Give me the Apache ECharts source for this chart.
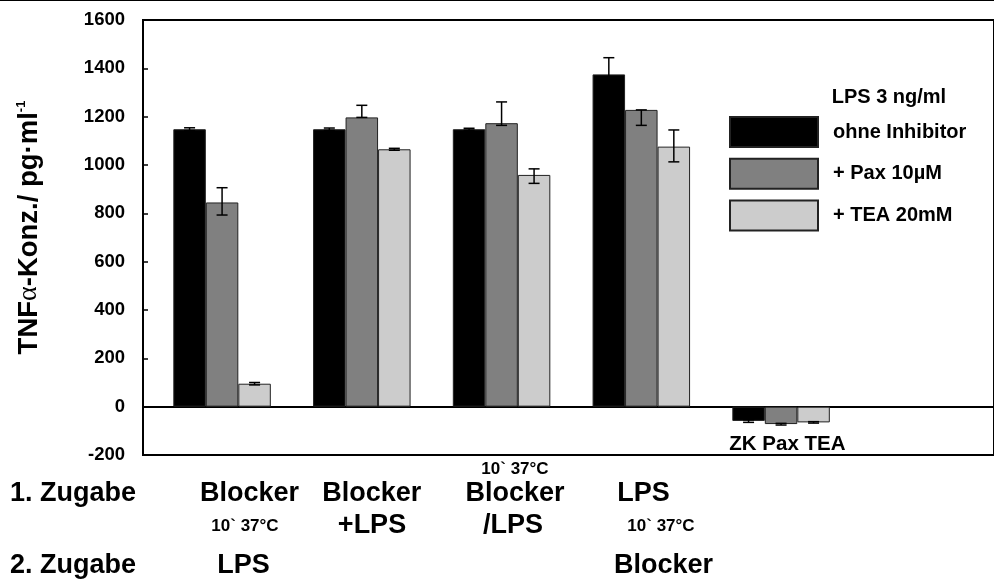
<!DOCTYPE html>
<html>
<head>
<meta charset="utf-8">
<script src="https://cdn.jsdelivr.net/npm/echarts@6/dist/echarts.min.js"></script>
<style>
  html, body { margin: 0; padding: 0; background: #fff; }
  #chart { width: 994px; height: 580px; }
</style>
</head>
<body>
<div id="chart"></div>
<script>
// ---------------- data ----------------
const categories = ['Blocker 10` 37°C / LPS', 'Blocker+LPS', '10` 37°C Blocker/LPS', 'LPS 10` 37°C / Blocker', 'ZK Pax TEA'];
const seriesNames = ['ohne Inhibitor', '+ Pax 10µM', '+ TEA 20mM'];
const ohne = [1148, 1148, 1148, 1375, -59];
const pax  = [845, 1197, 1173, 1228, -72];
const tea  = [95, 1065, 959, 1076, -65];
const ohneErrPlus  = [6, 5, 4, 69, 5];
const ohneErrMinus = [6, 5, 4, 69, 6];
const paxErrPlus   = [61, 50, 88, 0, 3];
const paxErrMinus  = [52, 0, 9, 64, 4];
const teaErrPlus   = [5, 4, 25, 69, 3];
const teaErrMinus  = [5, 4, 35, 63, 3];
const yTicks = { min: -200, max: 1600, step: 200 };
const legendTitle = 'LPS 3 ng/ml';
const rowLabels = ['1. Zugabe', '2. Zugabe'];
const zugabe1 = ['Blocker', 'Blocker', 'Blocker', 'LPS'];
const zugabe1Zusatz = ['10` 37°C', '+LPS', '/LPS', '10` 37°C'];
const vorZugabe1 = ['', '', '10` 37°C', ''];
const zugabe2 = ['LPS', '', '', 'Blocker'];
const controlLabel = 'ZK Pax TEA';

// ---------------- layout ----------------
const FONT = 'Liberation Sans, Arial, Helvetica, sans-serif';
const BAR_W = 32.5;
const CAP = 11;
const colors = ['#000000', '#808080', '#cccccc'];
const values = [ohne, pax, tea];
const errP = [ohneErrPlus, paxErrPlus, teaErrPlus];
const errM = [ohneErrMinus, paxErrMinus, teaErrMinus];

const barSeries = seriesNames.map((n, i) => ({
  name: n,
  type: 'bar',
  xAxisIndex: 1,
  yAxisIndex: 1,
  data: values[i],
  barWidth: BAR_W,
  barGap: '0%',
  itemStyle: { color: colors[i], borderColor: '#222', borderWidth: 1 },
  z: 2
}));

function errRender(si) {
  return function (params, api) {
    const x = api.value(0), v = api.value(1), p = api.value(2), m = api.value(3);
    const top = api.coord([x, v + p]);
    const bot = api.coord([x, v - m]);
    const cx = top[0] + (si - 1) * BAR_W;
    const st = { stroke: '#000', lineWidth: 1.5 };
    return {
      type: 'group',
      children: [
        { type: 'line', shape: { x1: cx, y1: top[1], x2: cx, y2: bot[1] }, style: st },
        { type: 'line', shape: { x1: cx - CAP / 2, y1: top[1], x2: cx + CAP / 2, y2: top[1] }, style: st },
        { type: 'line', shape: { x1: cx - CAP / 2, y1: bot[1], x2: cx + CAP / 2, y2: bot[1] }, style: st }
      ]
    };
  };
}
const errSeries = seriesNames.map((n, i) => ({
  type: 'custom',
  xAxisIndex: 1,
  yAxisIndex: 1,
  renderItem: errRender(i),
  data: values[i].map((v, k) => [k, v, errP[i][k], errM[i][k]]),
  z: 5,
  silent: true
}));

const bigFont = { fontSize: 27, fontWeight: 'bold', fontFamily: FONT, fill: '#000' };
const smallFont = { fontSize: 17, fontWeight: 'bold', fontFamily: FONT, fill: '#000' };
function txt(text, x, y, f, align) {
  return { type: 'text', silent: true, style: Object.assign({ text: text, x: x, y: y, align: align || 'center', verticalAlign: 'middle' }, f) };
}
const row1X = [249.5, 371.7, 515, 643.5];
const row1bX = [245, 372, 513, 661];
const row1bBig = [false, true, true, false];
const graphics = [
  { type: 'line', silent: true, shape: { x1: 0, y1: 0.5, x2: 994, y2: 0.5 }, style: { stroke: '#000', lineWidth: 1 } },
  txt(legendTitle, 831.7, 97, { fontSize: 20, fontWeight: 'bold', fontFamily: FONT, fill: '#000' }, 'left'),
  txt(controlLabel, 729.3, 444, { fontSize: 20.5, fontWeight: 'bold', fontFamily: FONT, fill: '#000' }, 'left'),
  txt(rowLabels[0], 10, 494, bigFont, 'left'),
  txt(rowLabels[1], 10, 566, bigFont, 'left')
];
zugabe1.forEach((t, i) => graphics.push(txt(t, row1X[i], 494, bigFont)));
zugabe1Zusatz.forEach((t, i) => graphics.push(txt(t, row1bX[i], 526, row1bBig[i] ? bigFont : smallFont)));
vorZugabe1.forEach((t, i) => { if (t) graphics.push(txt(t, 515, 469.5, smallFont)); });
const row2X = [243.5, 0, 0, 663.5];
zugabe2.forEach((t, i) => { if (t) graphics.push(txt(t, row2X[i], 566, bigFont)); });

const option = {
  animation: false,
  textStyle: { fontFamily: FONT },
  grid: [
    { left: 143, top: 20, width: 900, bottom: 125, show: true, borderColor: '#000', borderWidth: 2, backgroundColor: 'transparent' },
    { left: 152.2, top: 20, right: 143.05, bottom: 125 }
  ],
  xAxis: [
    { type: 'value', gridIndex: 0, min: 0, max: 1, axisLine: { show: true, onZero: true, lineStyle: { color: '#000', width: 2 } },
      axisTick: { show: false }, axisLabel: { show: false }, splitLine: { show: false } },
    { type: 'category', gridIndex: 1, data: categories, axisLine: { show: false }, axisTick: { show: false },
      axisLabel: { show: false }, splitLine: { show: false } }
  ],
  yAxis: [
    { type: 'value', gridIndex: 0, min: yTicks.min, max: yTicks.max, interval: yTicks.step,
      axisLine: { show: true, lineStyle: { color: '#000', width: 2 } },
      axisTick: { show: true, inside: true, length: 5, lineStyle: { color: '#000', width: 1.5 } },
      axisLabel: { color: '#000', fontSize: 18.5, fontWeight: 'bold', fontFamily: FONT, margin: 18, formatter: v => String(v) },
      splitLine: { show: false },
      name: '{a|TNF}{b|α}{a|-Konz./ pg·ml}{s|-1}',
      nameLocation: 'middle', nameRotate: 90, nameGap: 100,
      nameTextStyle: {
        padding: [0, 0, 0, 20],
        rich: {
          a: { fontSize: 27.5, fontWeight: 'bold', fontFamily: FONT, color: '#000' },
          b: { fontSize: 28, fontWeight: 'normal', fontFamily: 'Liberation Serif, DejaVu Serif, serif', color: '#000' },
          s: { fontSize: 13, fontWeight: 'bold', fontFamily: FONT, color: '#000', verticalAlign: 'top' }
        }
      }
    },
    { type: 'value', gridIndex: 1, min: yTicks.min, max: yTicks.max, interval: yTicks.step, show: false, splitLine: { show: false } }
  ],
  legend: {
    data: seriesNames,
    orient: 'vertical', left: 729, top: 116, padding: 0,
    itemWidth: 88, itemHeight: 30, itemGap: 9.8,
    icon: 'rect', selectedMode: false,
    textStyle: { fontSize: 20, fontWeight: 'bold', color: '#000', fontFamily: FONT, padding: [0, 0, 0, 10] }
  },
  series: barSeries.concat(errSeries),
  graphic: graphics
};
const chart = echarts.init(document.getElementById('chart'), null, { renderer: 'canvas' });
chart.setOption(option);
</script>
</body>
</html>
